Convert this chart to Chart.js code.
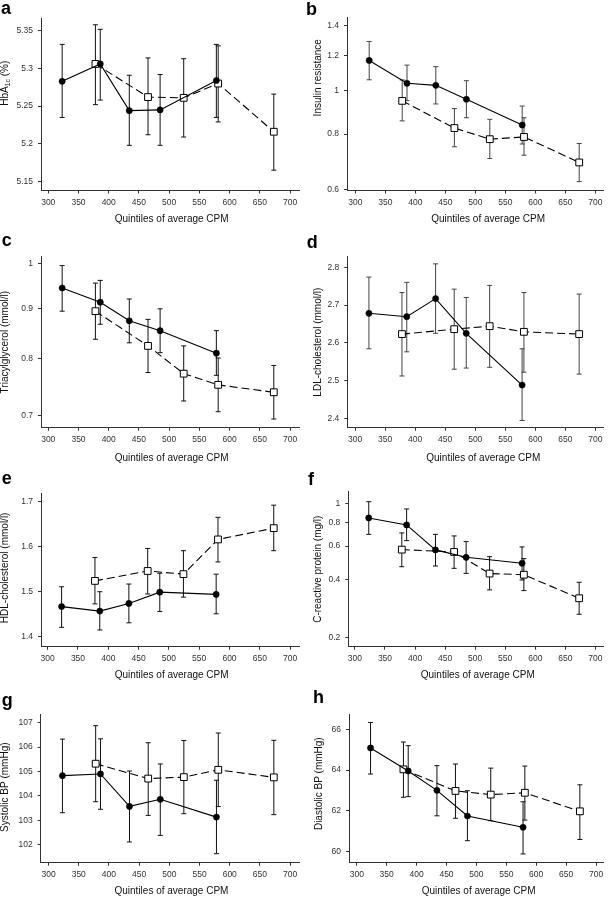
<!DOCTYPE html>
<html>
<head>
<meta charset="utf-8">
<script src="https://cdn.jsdelivr.net/npm/chart.js@4.4.1/dist/chart.umd.min.js"></script>
<style>
  html, body { margin: 0; padding: 0; background: #fff; }
  body { position: relative; width: 609px; height: 897px; overflow: hidden; }
  canvas { position: absolute; }
</style>
</head>
<body>
<script>
// shared x positions (quintile means of CPM)
const xTicks = [300, 350, 400, 450, 500, 550, 600, 650, 700]
const cpmSolid = [323, 386, 434, 485, 578]
const cpmDashed = [378, 465, 524, 581, 673]
const xTitle = 'Quintiles of average CPM'

// a: HbA1c
const hba1cSolid = [5.283, 5.306, 5.244, 5.245, 5.284]
const hba1cSolidCI = [[5.235, 5.332], [5.258, 5.352], [5.198, 5.291], [5.198, 5.292], [5.235, 5.332]]
const hba1cDashed = [5.306, 5.262, 5.261, 5.280, 5.216]
const hba1cDashedCI = [[5.252, 5.358], [5.212, 5.314], [5.209, 5.313], [5.229, 5.330], [5.165, 5.266]]
const hba1cTicks = [5.15, 5.2, 5.25, 5.3, 5.35]

// b: insulin resistance (log)
const irSolid = [1.169, 1.039, 1.028, 0.957, 0.838]
const irSolidCI = [[1.058, 1.289], [0.950, 1.141], [0.934, 1.132], [0.870, 1.053], [0.760, 0.924]]
const irDashed = [0.949, 0.825, 0.779, 0.788, 0.691]
const irDashedCI = [[0.856, 1.057], [0.749, 0.912], [0.705, 0.863], [0.717, 0.870], [0.626, 0.762]]
const irTicks = [0.6, 0.8, 1, 1.2, 1.4]

// c: triacylglycerol (log)
const tgSolid = [0.944, 0.913, 0.874, 0.854, 0.810]
const tgSolidCI = [[0.894, 0.995], [0.867, 0.961], [0.830, 0.920], [0.811, 0.899], [0.769, 0.854]]
const tgDashed = [0.894, 0.824, 0.772, 0.752, 0.739]
const tgDashedCI = [[0.837, 0.955], [0.774, 0.877], [0.724, 0.824], [0.706, 0.801], [0.694, 0.787]]
const tgTicks = [0.7, 0.8, 0.9, 1]

// d: LDL-cholesterol
const ldlSolid = [2.678, 2.669, 2.717, 2.625, 2.488]
const ldlSolidCI = [[2.584, 2.774], [2.576, 2.760], [2.625, 2.809], [2.533, 2.720], [2.394, 2.584]]
const ldlDashed = [2.623, 2.636, 2.644, 2.629, 2.623]
const ldlDashedCI = [[2.512, 2.733], [2.530, 2.742], [2.535, 2.752], [2.522, 2.733], [2.517, 2.729]]
const ldlTicks = [2.4, 2.5, 2.6, 2.7, 2.8]

// e: HDL-cholesterol
const hdlSolid = [1.467, 1.457, 1.474, 1.499, 1.494]
const hdlSolidCI = [[1.421, 1.511], [1.415, 1.500], [1.431, 1.517], [1.456, 1.541], [1.451, 1.539]]
const hdlDashed = [1.524, 1.546, 1.539, 1.616, 1.641]
const hdlDashedCI = [[1.473, 1.576], [1.495, 1.596], [1.488, 1.591], [1.566, 1.665], [1.591, 1.692]]
const hdlTicks = [1.4, 1.5, 1.6, 1.7]

// f: C-reactive protein (log)
const crpSolid = [0.842, 0.774, 0.573, 0.524, 0.488]
const crpSolidCI = [[0.691, 1.024], [0.641, 0.938], [0.472, 0.691], [0.432, 0.633], [0.399, 0.594]]
const crpDashed = [0.575, 0.559, 0.431, 0.425, 0.320]
const crpDashedCI = [[0.468, 0.703], [0.459, 0.678], [0.354, 0.528], [0.351, 0.516], [0.264, 0.388]]
const crpTicks = [0.2, 0.4, 0.6, 0.8, 1]

// g: systolic BP
const sbpSolid = [104.83, 104.90, 103.57, 103.86, 103.13]
const sbpSolidCI = [[103.31, 106.33], [103.45, 106.34], [102.11, 105.02], [102.38, 105.31], [101.63, 104.64]]
const sbpDashed = [105.32, 104.71, 104.77, 105.07, 104.76]
const sbpDashedCI = [[103.76, 106.88], [103.20, 106.18], [103.27, 106.27], [103.56, 106.58], [103.23, 106.28]]
const sbpTicks = [102, 103, 104, 105, 106, 107]

// h: diastolic BP
const dbpSolid = [65.09, 63.96, 63.01, 61.75, 61.20]
const dbpSolidCI = [[63.81, 66.34], [62.70, 65.20], [61.76, 64.22], [60.54, 62.99], [59.89, 62.45]]
const dbpDashed = [64.04, 62.98, 62.80, 62.89, 61.98]
const dbpDashedCI = [[62.67, 65.38], [61.64, 64.30], [61.52, 64.10], [61.55, 64.20], [60.60, 63.28]]
const dbpTicks = [60, 62, 64, 66]

const FONT = '"Liberation Sans", Arial, Helvetica, sans-serif'
Chart.defaults.font.family = FONT

// panel layout: box = canvas [x, y, w, h] on page, plot = [left, top, right, bottom] on page
const panels = [
  { letter: 'a', lx: 1, ly: 13.5, title: [['HbA'], ['1c', true], [' (%)']], tx: 5.5, tShift: -21,
    solid: hba1cSolid, solidCI: hba1cSolidCI, dashed: hba1cDashed, dashedCI: hba1cDashedCI, yTicks: hba1cTicks,
    log: false, yMin: 5.138, yMax: 5.367, xMin: 288, xMax: 715,
    box: [0, 0, 305, 228], plot: [41, 18, 301, 190.5], xty: 219, xShift: 1.5, bar: '#111' },
  { letter: 'b', lx: 1, ly: 15, title: [['Insulin resistance']], tx: 13, tShift: -26,
    solid: irSolid, solidCI: irSolidCI, dashed: irDashed, dashedCI: irDashedCI, yTicks: irTicks,
    log: true, yMin: 0.598, yMax: 1.462, xMin: 286, xMax: 713,
    box: [305, 0, 304, 228], plot: [347, 17, 607.5, 190.5], xty: 219, xShift: 13, bar: '#444' },
  { letter: 'c', lx: 1.7, ly: 17.7, title: [['Triacylglycerol (mmol/l)']], tx: 5.5, tShift: 0,
    solid: tgSolid, solidCI: tgSolidCI, dashed: tgDashed, dashedCI: tgDashedCI, yTicks: tgTicks,
    log: true, yMin: 0.683, yMax: 1.016, xMin: 288, xMax: 715,
    box: [0, 228, 305, 238], plot: [41, 256.7, 301, 427.7], xty: 230, xShift: 1.5, bar: '#111' },
  { letter: 'd', lx: 1.7, ly: 20.3, title: [['LDL-cholesterol (mmol/l)']], tx: 13.5, tShift: 0,
    solid: ldlSolid, solidCI: ldlSolidCI, dashed: ldlDashed, dashedCI: ldlDashedCI, yTicks: ldlTicks,
    log: false, yMin: 2.375, yMax: 2.828, xMin: 287, xMax: 713,
    box: [305, 228, 304, 238], plot: [347.3, 256.7, 607.5, 427.7], xty: 230, xShift: 8, bar: '#444' },
  { letter: 'e', lx: 1.7, ly: 17.5, title: [['HDL-cholesterol (mmol/l)']], tx: 5.5, tShift: -2,
    solid: hdlSolid, solidCI: hdlSolidCI, dashed: hdlDashed, dashedCI: hdlDashedCI, yTicks: hdlTicks,
    log: false, yMin: 1.378, yMax: 1.719, xMin: 289, xMax: 715,
    box: [0, 466, 305, 218], plot: [41, 493, 301, 646.7], xty: 209, xShift: 1.5, bar: '#111' },
  { letter: 'f', lx: 3, ly: 19, title: [['C-reactive protein (mg/l)']], tx: 13.5, tShift: 0,
    solid: crpSolid, solidCI: crpSolidCI, dashed: crpDashed, dashedCI: crpDashedCI, yTicks: crpTicks,
    log: true, yMin: 0.1786, yMax: 1.155, xMin: 289, xMax: 713,
    box: [305, 466, 304, 218], plot: [348.3, 491.7, 607.5, 646.7], xty: 209, xShift: 2, bar: '#111' },
  { letter: 'g', lx: 1.7, ly: 22, title: [['Systolic BP (mmHg)']], tx: 5.5, tShift: -1.5,
    solid: sbpSolid, solidCI: sbpSolidCI, dashed: sbpDashed, dashedCI: sbpDashedCI, yTicks: sbpTicks,
    log: false, yMin: 101.26, yMax: 107.33, xMin: 287, xMax: 715,
    box: [0, 684, 305, 213], plot: [40.7, 714.7, 301, 862.7], xty: 207, xShift: 1.5, bar: '#111' },
  { letter: 'h', lx: 8, ly: 18.5, title: [['Diastolic BP (mmHg)']], tx: 14.5, tShift: -5,
    solid: dbpSolid, solidCI: dbpSolidCI, dashed: dbpDashed, dashedCI: dbpDashedCI, yTicks: dbpTicks,
    log: false, yMin: 59.46, yMax: 66.72, xMin: 287, xMax: 712,
    box: [305, 684, 304, 213], plot: [349, 714.7, 607, 862.7], xty: 207, xShift: 2.5, bar: '#111' }
]

// error bars, axis titles and panel letters
const panelDecor = {
  id: 'panelDecor',
  beforeDatasetsDraw(chart, args, opts) {
    const { ctx, scales: { x, y } } = chart
    ctx.save()
    ctx.strokeStyle = opts.bar
    ctx.lineWidth = 1
    chart.data.datasets.forEach(ds => {
      ds.ci.forEach(([lo, hi], j) => {
        const px = x.getPixelForValue(ds.data[j].x)
        const top = y.getPixelForValue(hi)
        const bot = y.getPixelForValue(lo)
        ctx.beginPath()
        ctx.moveTo(px, top); ctx.lineTo(px, bot)
        ctx.moveTo(px - 2.5, top); ctx.lineTo(px + 2.5, top)
        ctx.moveTo(px - 2.5, bot); ctx.lineTo(px + 2.5, bot)
        ctx.stroke()
      })
    })
    ctx.restore()
  },
  afterDraw(chart, args, opts) {
    const { ctx, chartArea } = chart
    ctx.save()
    ctx.fillStyle = '#111'
    // x title
    ctx.font = '10px ' + FONT
    ctx.textAlign = 'center'
    ctx.textBaseline = 'middle'
    ctx.fillText(xTitle, (chartArea.left + chartArea.right) / 2 + opts.xShift, opts.xty)
    // y title (rotated, with optional subscript)
    const parts = opts.title.map(([t, sub]) => ({ t, sub, font: (sub ? '7px ' : '10px ') + FONT }))
    let total = 0
    parts.forEach(p => { ctx.font = p.font; p.w = ctx.measureText(p.t).width; total += p.w })
    ctx.translate(opts.tx, (chartArea.top + chartArea.bottom) / 2 + opts.tShift)
    ctx.rotate(-Math.PI / 2)
    ctx.textAlign = 'left'
    let cx = -total / 2
    parts.forEach(p => {
      ctx.font = p.font
      ctx.fillText(p.t, cx, p.sub ? 3 : 0)
      cx += p.w
    })
    ctx.restore()
    // panel letter
    ctx.save()
    ctx.fillStyle = '#000'
    ctx.font = 'bold 18px ' + FONT
    ctx.textAlign = 'left'
    ctx.textBaseline = 'alphabetic'
    ctx.fillText(opts.letter, opts.lx, opts.ly)
    ctx.restore()
  }
}

const fmt = v => String(Math.round(v * 1000) / 1000)

panels.forEach(p => {
  const [bx, by, bw, bh] = p.box
  const [pl, pt, pr, pb] = p.plot
  const cv = document.createElement('canvas')
  cv.width = bw
  cv.height = bh
  cv.style.left = bx + 'px'
  cv.style.top = by + 'px'
  cv.style.width = bw + 'px'
  cv.style.height = bh + 'px'
  document.body.appendChild(cv)

  const axisCommon = {
    grid: { drawOnChartArea: false, tickLength: 3, color: '#333', lineWidth: 1 },
    border: { display: true, color: '#333', width: 1 },
  }

  new Chart(cv, {
    type: 'line',
    data: {
      datasets: [
        {
          data: p.solid.map((v, i) => ({ x: cpmSolid[i], y: v })),
          ci: p.solidCI,
          borderColor: '#000',
          borderWidth: 1.1,
          pointStyle: 'circle',
          pointRadius: 3.1,
          pointBackgroundColor: '#000',
          pointBorderColor: '#000',
          pointBorderWidth: 0.5,
          tension: 0
        },
        {
          data: p.dashed.map((v, i) => ({ x: cpmDashed[i], y: v })),
          ci: p.dashedCI,
          borderColor: '#000',
          borderWidth: 1.1,
          borderDash: [8, 4],
          pointStyle: 'rect',
          pointRadius: 4.8,
          pointBackgroundColor: '#fff',
          pointBorderColor: '#000',
          pointBorderWidth: 1,
          tension: 0
        }
      ]
    },
    options: {
      responsive: false,
      animation: false,
      devicePixelRatio: 1,
      layout: { padding: { left: 0, top: pt - by, right: bx + bw - pr, bottom: 0 } },
      plugins: {
        legend: { display: false },
        tooltip: { enabled: false },
        panelDecor: {
          letter: p.letter, lx: p.lx, ly: p.ly, title: p.title, tx: p.tx, tShift: p.tShift,
          xty: p.xty, xShift: p.xShift, bar: p.bar
        }
      },
      scales: {
        x: {
          ...axisCommon,
          type: 'linear',
          min: p.xMin,
          max: p.xMax,
          afterBuildTicks: s => { s.ticks = xTicks.map(v => ({ value: v })) },
          afterFit: s => { s.height = by + bh - pb },
          ticks: { font: { size: 8.5 }, color: '#333', padding: 4, maxRotation: 0, autoSkip: false, callback: fmt }
        },
        y: {
          ...axisCommon,
          type: p.log ? 'logarithmic' : 'linear',
          min: p.yMin,
          max: p.yMax,
          afterBuildTicks: s => { s.ticks = p.yTicks.map(v => ({ value: v })) },
          afterFit: s => { s.width = pl - bx },
          ticks: { font: { size: 8.5 }, color: '#333', padding: 5, autoSkip: false, callback: fmt }
        }
      }
    },
    plugins: [panelDecor]
  })
})
</script>
</body>
</html>
